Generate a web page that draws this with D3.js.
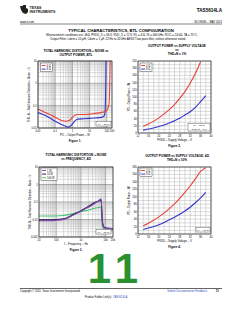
<!DOCTYPE html>
<html>
<head>
<meta charset="utf-8">
<script src="https://cdn.jsdelivr.net/npm/d3@7"></script>
<style>
body { margin: 0; background: #fff; }
svg { display: block; font-family: "Liberation Sans", Arial, sans-serif; }
</style>
</head>
<body>
<script>
// Figure 1 - THD+N vs output power
var fig1RedW = [0.01, 0.02, 0.05, 0.1, 0.2, 0.4, 0.7, 1, 1.5, 2, 5, 10, 20, 50, 80, 110, 135, 145, 150, 155];
var fig1RedPct = [0.07, 0.055, 0.04, 0.03, 0.023, 0.02, 0.022, 0.03, 0.038, 0.04, 0.04, 0.042, 0.045, 0.05, 0.055, 0.07, 0.12, 0.5, 2, 10];
var fig1BlueW = [0.01, 0.02, 0.05, 0.1, 0.2, 0.4, 0.6, 1, 1.5, 2, 5, 10, 20, 50, 70, 80, 85, 88, 90];
var fig1BluePct = [0.05, 0.04, 0.028, 0.02, 0.015, 0.012, 0.011, 0.015, 0.022, 0.025, 0.026, 0.027, 0.028, 0.03, 0.035, 0.06, 0.3, 2, 10];
var fig1XTicks = [0.01, 0.1, 1, 10, 100, 200];
var fig1YTicks = [0.01, 0.1, 1, 10];

// Figure 2 - output power vs supply voltage, THD+N = 1 %
var fig2RedV = [14, 16, 18, 20, 22, 24, 26, 28, 30, 32, 34, 36];
var fig2RedW = [19, 25, 33, 42, 53, 65, 79, 96, 115, 138, 165, 198];
var fig2BlueV = [14, 16, 18, 20, 22, 24, 26, 28, 30, 32, 34, 36, 38];
var fig2BlueW = [8, 11, 14, 18, 22, 28, 34, 41, 50, 59, 71, 87, 104];
var fig2XTicks = [12, 16, 20, 24, 28, 32, 36, 40];
var fig2YTicks = [0, 20, 40, 60, 80, 100, 120, 140, 160, 180, 200];

// Figure 3 - THD+N vs frequency
var fig3Hz = [20, 50, 100, 200, 500, 1000, 2000, 4000, 6000, 6600, 7500, 9000, 12000, 20000];
var fig3OnePct = [0.0085, 0.0085, 0.009, 0.01, 0.018, 0.03, 0.05, 0.09, 0.14, 0.15, 0.006, 0.0033, 0.003, 0.003];
var fig3TenPct = [0.0095, 0.0095, 0.01, 0.011, 0.02, 0.032, 0.055, 0.1, 0.12, 0.13, 0.007, 0.0035, 0.0032, 0.003];
var fig3HundredPct = [0.016, 0.016, 0.016, 0.017, 0.022, 0.028, 0.035, 0.045, 0.05, 0.05, 0.004, 0.0026, 0.0025, 0.0025];
var fig3XTicks = [20, 100, 1000, 10000, 20000];
var fig3XLabels = ["20", "100", "1k", "10k", "20k"];
var fig3YTicks = [0.001, 0.01, 0.1, 1, 10];

// Figure 4 - output power vs supply voltage, THD+N = 10 %
var fig4RedV = [14, 16, 18, 20, 22, 24, 26, 28, 30, 32, 34, 36, 38];
var fig4RedW = [22, 29, 37, 46, 56, 68, 81, 96, 112, 129, 148, 168, 178];
var fig4BlueV = [14, 16, 18, 20, 22, 24, 26, 28, 30, 32, 34, 36, 38];
var fig4BlueW = [12, 16, 20, 25, 31, 38, 45, 53, 62, 72, 84, 97, 112];
var fig4XTicks = [12, 16, 20, 24, 28, 32, 36, 40];
var fig4YTicks = [0, 20, 40, 60, 80, 100, 120, 140, 160, 180];

var RED = "#e8403a", BLUE = "#3434c8";
var PURPLE = "#8040b0", NAVY = "#202040", GREEN = "#44c070";

var svg = d3.select("body").append("svg")
    .attr("width", 240)
    .attr("height", 310);

// ---- page header ----
var logo = svg.append("g").attr("transform", "translate(20,5)");
logo.append("path")
    .attr("d", "M0,1 L3,1 L3,0 L6,0 L6,3 L8,4 L8,7 L6,9 L3,8 L1,5 Z")
    .attr("fill", "#222");
logo.append("text").attr("x", 9.5).attr("y", 3.8).attr("font-size", 3.6).attr("font-weight", "bold").attr("fill", "#222").text("TEXAS");
logo.append("text").attr("x", 9.5).attr("y", 7.8).attr("font-size", 3.6).attr("font-weight", "bold").attr("fill", "#222").text("INSTRUMENTS");

svg.append("text").attr("x", 222).attr("y", 12).attr("text-anchor", "end")
    .attr("font-size", 4.6).attr("font-weight", "bold").text("TAS5614LA");
svg.append("text").attr("x", 20).attr("y", 22.6).attr("font-size", 2.8).text("www.ti.com");
svg.append("text").attr("x", 222).attr("y", 22.6).attr("text-anchor", "end").attr("font-size", 2.8).text("SLOS686 \u2013 MAY 2011");
svg.append("line").attr("x1", 20).attr("x2", 222).attr("y1", 24).attr("y2", 24)
    .attr("stroke", "#000").attr("stroke-width", 0.5);

svg.append("text").attr("x", 121).attr("y", 31.5).attr("text-anchor", "middle")
    .attr("font-size", 4.2).attr("font-weight", "bold").text("TYPICAL CHARACTERISTICS, BTL CONFIGURATION");
svg.append("text").attr("x", 122).attr("y", 36).attr("text-anchor", "middle").attr("font-size", 2.9)
    .text("Measurement conditions are: 4k\u03a9, PVDD_X = 36 V, VDD_X = 12 V, RL = 4 \u03a9, fS = 400 kHz, ROC = 24 k\u03a9, TA = 75\u00b0C,");
svg.append("text").attr("x", 118).attr("y", 40).attr("text-anchor", "middle").attr("font-size", 2.9)
    .text("Output Filter: Ldem = 10 \u03bcH, Cdem = 1 \u03bcF, 22 Hz to 20 kHz AES17 low pass filter, unless otherwise noted.");

// ---- helpers ----
function titleLines(lines, cx, y0) {
  lines.forEach(function(t, i) {
    svg.append("text").attr("x", cx).attr("y", y0 + i * 4)
      .attr("text-anchor", "middle").attr("font-size", 3.1).attr("font-weight", "bold").text(t);
  });
}

function frame(box, xScale, yScale, xTitle, yTitle, fig) {
  var g = svg.append("g");
  g.append("rect").attr("x", box.x).attr("y", box.y).attr("width", box.w).attr("height", box.h)
    .attr("fill", "none").attr("stroke", "#000").attr("stroke-width", 0.6);
  g.append("text").attr("x", box.x + box.w / 2).attr("y", box.y + box.h + 8.2)
    .attr("text-anchor", "middle").attr("font-size", 2.8).text(xTitle);
  g.append("text").attr("transform", "translate(" + (box.x - 8.5) + "," + (box.y + box.h / 2) + ") rotate(-90)")
    .attr("text-anchor", "middle").attr("font-size", 2.6).text(yTitle);
  g.append("text").attr("x", box.x + box.w / 2).attr("y", box.y + box.h + 13.5)
    .attr("text-anchor", "middle").attr("font-size", 3).attr("font-weight", "bold").text(fig);
}

function logGrid(box, scale, dir) {
  var d = scale.domain();
  var vals = [];
  for (var e = Math.floor(Math.log10(d[0])); e <= Math.ceil(Math.log10(d[1])); e++) {
    for (var m = 1; m < 10; m++) {
      var v = m * Math.pow(10, e);
      if (v >= d[0] * 0.999 && v <= d[1] * 1.001) vals.push({v: v, major: m === 1});
    }
  }
  gridLines(box, scale, dir, vals);
}

function linGrid(box, scale, dir, step) {
  var d = scale.domain();
  var vals = d3.range(d[0], d[1] + step / 2, step).map(function(v) { return {v: v, major: false}; });
  gridLines(box, scale, dir, vals);
}

function gridLines(box, scale, dir, vals) {
  svg.append("g").selectAll("line").data(vals).enter().append("line")
    .attr("x1", function(d) { return dir === "x" ? scale(d.v) : box.x; })
    .attr("x2", function(d) { return dir === "x" ? scale(d.v) : box.x + box.w; })
    .attr("y1", function(d) { return dir === "x" ? box.y : scale(d.v); })
    .attr("y2", function(d) { return dir === "x" ? box.y + box.h : scale(d.v); })
    .attr("stroke", function(d) { return d.major ? "#555" : "#9a9a9a"; })
    .attr("stroke-width", function(d) { return d.major ? 0.45 : 0.35; });
}

function tickLabels(box, scale, dir, vals, labels) {
  svg.append("g").selectAll("text").data(vals).enter().append("text")
    .attr("x", function(d) { return dir === "x" ? scale(d) : box.x - 1.2; })
    .attr("y", function(d) { return dir === "x" ? box.y + box.h + 3.8 : scale(d) + 1; })
    .attr("text-anchor", dir === "x" ? "middle" : "end")
    .attr("font-size", 2.7)
    .text(function(d, i) { return labels ? labels[i] : d; });
}

function curve(xs, ys, xScale, yScale, color, w) {
  var pts = xs.map(function(x, i) { return [x, ys[i]]; });
  svg.append("path").datum(pts)
    .attr("d", d3.line().curve(d3.curveMonotoneX)
      .x(function(d) { return xScale(d[0]); })
      .y(function(d) { return yScale(d[1]); }))
    .attr("fill", "none").attr("stroke", color).attr("stroke-width", w || 1.1);
}

function legend(x, y, items, wBox) {
  var g = svg.append("g");
  g.append("rect").attr("x", x).attr("y", y).attr("width", wBox).attr("height", items.length * 3.6 + 1.5)
    .attr("fill", "#fff").attr("stroke", "#000").attr("stroke-width", 0.35);
  items.forEach(function(it, i) {
    var yy = y + 2.5 + i * 3.6;
    g.append("line").attr("x1", x + 1.2).attr("x2", x + 5).attr("y1", yy).attr("y2", yy)
      .attr("stroke", it.c).attr("stroke-width", 1);
    g.append("text").attr("x", x + 6).attr("y", yy + 1).attr("font-size", 2.6).text(it.t);
  });
}

function note(xr, yb, lines, wBox) {
  var g = svg.append("g");
  var h = lines.length * 3.2 + 1.4;
  g.append("rect").attr("x", xr - wBox).attr("y", yb - h).attr("width", wBox).attr("height", h)
    .attr("fill", "#fff").attr("stroke", "#000").attr("stroke-width", 0.3);
  lines.forEach(function(t, i) {
    g.append("text").attr("x", xr - wBox / 2).attr("y", yb - h + 3.1 + i * 3.2)
      .attr("text-anchor", "middle").attr("font-size", 2.5).text(t);
  });
}

// ---- Figure 1 ----
var b1 = {x: 38, y: 61, w: 74, h: 67};
var x1 = d3.scaleLog().domain([0.01, 200]).range([b1.x, b1.x + b1.w]);
var y1 = d3.scaleLog().domain([0.01, 10]).range([b1.y + b1.h, b1.y]);
titleLines(["TOTAL HARMONIC DISTORTION + NOISE vs", "OUTPUT POWER, BTL"], 76, 51.5);
logGrid(b1, x1, "x");
logGrid(b1, y1, "y");
curve(fig1BlueW, fig1BluePct, x1, y1, BLUE);
curve(fig1RedW, fig1RedPct, x1, y1, RED);
frame(b1, x1, y1, "PO \u2013 Output Power \u2013 W", "THD+N \u2013 Total Harmonic Distortion + Noise \u2013 %", "Figure 1.");
tickLabels(b1, x1, "x", fig1XTicks, ["0.01", "0.1", "1", "10", "100", "200"]);
tickLabels(b1, y1, "y", fig1YTicks, ["0.01", "0.1", "1", "10"]);
legend(40.5, 63, [{c: RED, t: "4 \u03a9"}, {c: BLUE, t: "8 \u03a9"}], 12);
note(111, 126, ["TA = 75\u00b0C"], 15);

// ---- Figure 2 ----
var b2 = {x: 138, y: 61, w: 73, h: 72};
var x2 = d3.scaleLinear().domain([12, 40]).range([b2.x, b2.x + b2.w]);
var y2 = d3.scaleLinear().domain([0, 200]).range([b2.y + b2.h, b2.y]);
titleLines(["OUTPUT POWER vs SUPPLY VOLTAGE", "vs", "THD+N = 1%"], 177, 47);
linGrid(b2, x2, "x", 2);
linGrid(b2, y2, "y", 10);
curve(fig2BlueV, fig2BlueW, x2, y2, BLUE);
curve(fig2RedV, fig2RedW, x2, y2, RED);
frame(b2, x2, y2, "PVDD \u2013 Supply Voltage \u2013 V", "PO \u2013 Output Power \u2013 W", "Figure 2.");
tickLabels(b2, x2, "x", fig2XTicks);
tickLabels(b2, y2, "y", fig2YTicks);
legend(140, 63, [{c: RED, t: "4 \u03a9"}, {c: BLUE, t: "8 \u03a9"}], 12);
note(210, 131, ["TA = 75\u00b0C", "THD+N = 1%"], 22);

// ---- Figure 3 ----
var b3 = {x: 39, y: 167, w: 74, h: 70};
var x3 = d3.scaleLog().domain([20, 20000]).range([b3.x, b3.x + b3.w]);
var y3 = d3.scaleLog().domain([0.001, 10]).range([b3.y + b3.h, b3.y]);
titleLines(["TOTAL HARMONIC DISTORTION + NOISE", "vs FREQUENCY, 4\u03a9"], 76, 155.5);
logGrid(b3, x3, "x");
logGrid(b3, y3, "y");
curve(fig3Hz, fig3HundredPct, x3, y3, GREEN);
curve(fig3Hz, fig3TenPct, x3, y3, NAVY);
curve(fig3Hz, fig3OnePct, x3, y3, PURPLE);
frame(b3, x3, y3, "f \u2013 Frequency \u2013 Hz", "THD+N \u2013 Total Harmonic Distortion + Noise \u2013 %", "Figure 3.");
tickLabels(b3, x3, "x", fig3XTicks, fig3XLabels);
tickLabels(b3, y3, "y", fig3YTicks, ["0.001", "0.01", "0.1", "1", "10"]);
legend(41, 168, [{c: PURPLE, t: "1 W"}, {c: NAVY, t: "10 W"}, {c: GREEN, t: "100 W"}], 16);
note(111, 234, ["TA = 75\u00b0C"], 15);

// ---- Figure 4 ----
var b4 = {x: 138, y: 167, w: 73, h: 67};
var x4 = d3.scaleLinear().domain([12, 40]).range([b4.x, b4.x + b4.w]);
var y4 = d3.scaleLinear().domain([0, 180]).range([b4.y + b4.h, b4.y]);
titleLines(["OUTPUT POWER vs SUPPLY VOLTAGE, 4\u03a9", "THD+N = 10%"], 177, 157);
linGrid(b4, x4, "x", 2);
linGrid(b4, y4, "y", 10);
curve(fig4BlueV, fig4BlueW, x4, y4, BLUE);
curve(fig4RedV, fig4RedW, x4, y4, RED);
frame(b4, x4, y4, "PVDD \u2013 Supply Voltage \u2013 V", "PO \u2013 Output Power \u2013 W", "Figure 4.");
tickLabels(b4, x4, "x", fig4XTicks);
tickLabels(b4, y4, "y", fig4YTicks);
legend(140, 168, [{c: RED, t: "4 \u03a9"}, {c: BLUE, t: "8 \u03a9"}], 12);
note(210, 232, ["TA = 75\u00b0C"], 14);

// ---- big page number and footer ----
svg.append("text").attr("x", 116).attr("y", 283).attr("text-anchor", "middle")
    .attr("font-family", "Liberation Sans").attr("font-weight", "bold").attr("font-size", 42)
    .attr("letter-spacing", 6)
    .attr("fill", "#2a9030").text("11");
svg.append("line").attr("x1", 20).attr("x2", 222).attr("y1", 288.5).attr("y2", 288.5)
    .attr("stroke", "#000").attr("stroke-width", 0.6);
svg.append("text").attr("x", 20).attr("y", 292).attr("font-size", 2.7)
    .text("Copyright \u00a9 2011, Texas Instruments Incorporated");
svg.append("text").attr("x", 207).attr("y", 292).attr("text-anchor", "end").attr("font-size", 2.7)
    .attr("fill", "#3050c0").text("Submit Documentation Feedback");
svg.append("text").attr("x", 219).attr("y", 292).attr("text-anchor", "end").attr("font-size", 3)
    .attr("font-weight", "bold").text("11");
svg.append("text").attr("x", 112).attr("y", 298).attr("text-anchor", "end").attr("font-size", 2.7)
    .text("Product Folder Link(s):");
svg.append("text").attr("x", 113).attr("y", 298).attr("font-size", 2.7)
    .attr("fill", "#3050c0").text("TAS5614LA");
</script>
</body>
</html>
